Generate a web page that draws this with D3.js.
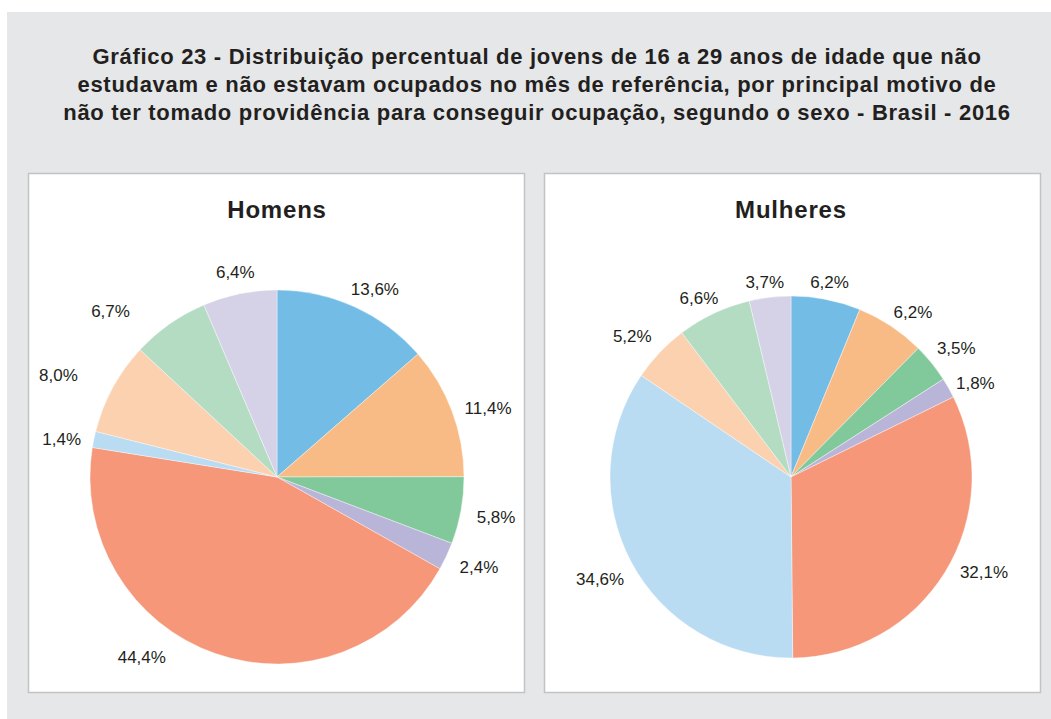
<!DOCTYPE html>
<html>
<head>
<meta charset="utf-8">
<script src="https://cdn.jsdelivr.net/npm/d3@7"></script>
<style>
  body { margin: 0; background: #fff; }
  text { font-family: "Liberation Sans", Arial, sans-serif; fill: #231f20; }
</style>
</head>
<body>
<div id="chart_div"></div>
<script>
var title_lines = [
    "Gráfico 23 - Distribuição percentual de jovens de 16 a 29 anos de idade que não",
    "estudavam e não estavam ocupados no mês de referência, por principal motivo de",
    "não ter tomado providência para conseguir ocupação, segundo o sexo - Brasil - 2016"
];
var groups = ["Homens", "Mulheres"];
var slice_colors = ["#72bce6", "#f9bb85", "#81c99b", "#b9b5d9", "#f59778", "#b9dcf3", "#fbd1b0", "#b4dcc2", "#d5d2e8"];
var homens = [13.6, 11.4, 5.8, 2.4, 44.4, 1.4, 8.0, 6.7, 6.4];
var mulheres = [6.2, 6.2, 3.5, 1.8, 32.1, 34.6, 5.2, 6.6, 3.7];

// hand placement of the value labels, like in the print:
// turn in degrees, push out in px
var turn_h = [3, 2.5, 0, -1, 17.7, -1.5, -3.5, -10, 0];
var push_h = [0, 0, 0, 0, 10, -4, 20, 18, 2];
var turn_m = [0, 3, 1, 2.5, -5.5, 0, -2, -2, -1];
var push_m = [-2, -4, -3, -8, 0, 2, 0, -5, -3];

var chart_width = 1051;
var chart_height = 719;
var svg = d3.select("#chart_div").append("svg")
    .attr("width", chart_width)
    .attr("height", chart_height);

svg.append("rect")
    .attr("x", 7).attr("y", 12)
    .attr("width", chart_width - 7).attr("height", chart_height - 12)
    .attr("fill", "#e6e7e8");

svg.selectAll("text.title")
    .data(title_lines)
    .enter().append("text")
    .attr("class", "title")
    .attr("x", 537)
    .attr("y", function(d, i) { return 64 + i * 28; })
    .attr("text-anchor", "middle")
    .attr("font-size", 22)
    .attr("letter-spacing", 0.7)
    .attr("font-weight", "bold")
    .text(function(d) { return d; });

var panels = [
    { name: groups[0], values: homens, turn: turn_h, push: push_h, x: 28, cx: 277, r: 187 },
    { name: groups[1], values: mulheres, turn: turn_m, push: push_m, x: 544, cx: 791, r: 181 }
];

var pie = d3.pie().sort(null).value(function(d) { return d; });

panels.forEach(function(p) {
    var g = svg.append("g");
    g.append("rect")
        .attr("x", p.x + 0.5).attr("y", 173.5)
        .attr("width", 496).attr("height", 519)
        .attr("fill", "#fff")
        .attr("stroke", "#c2c3c5")
        .attr("stroke-width", 1.5);

    g.append("text")
        .attr("x", p.cx).attr("y", 218)
        .attr("text-anchor", "middle")
        .attr("font-size", 24)
        .attr("letter-spacing", 0.8)
        .attr("font-weight", "bold")
        .text(p.name);

    var arc = d3.arc().innerRadius(0).outerRadius(p.r);
    var pg = g.append("g").attr("transform", "translate(" + p.cx + ",477)");
    var arcs = pie(p.values);

    pg.selectAll("path")
        .data(arcs)
        .enter().append("path")
        .attr("d", arc)
        .attr("fill", function(d, i) { return slice_colors[i]; })
        .attr("stroke", "#fff")
        .attr("stroke-width", 0.4);

    pg.selectAll("text")
        .data(arcs)
        .enter().append("text")
        .attr("transform", function(d, i) {
            var a = (d.startAngle + d.endAngle) / 2 + p.turn[i] * Math.PI / 180;
            var dist = p.r + 16 + 20 * Math.abs(Math.sin(a)) + p.push[i];
            return "translate(" + (dist * Math.sin(a)) + "," + (-dist * Math.cos(a)) + ")";
        })
        .attr("text-anchor", "middle")
        .attr("dy", "0.35em")
        .attr("font-size", 17)
        .text(function(d) { return d3.format(".1f")(d.data).replace(".", ",") + "%"; });
});
</script>
</body>
</html>
